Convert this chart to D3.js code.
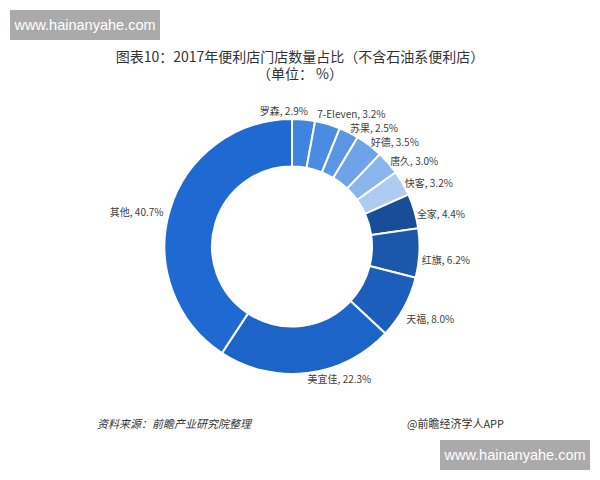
<!DOCTYPE html>
<html><head><meta charset="utf-8">
<script src="https://cdn.jsdelivr.net/npm/d3@7"></script>
<style>body{margin:0;background:#fff}svg{display:block}</style>
</head><body>
<svg id="c" width="600" height="480"></svg>
<script>
const categories = ["罗森","7-Eleven","苏果","好德","唐久","快客","全家","红旗","天福","美宜佳","其他"];
const values = [2.9,3.2,2.5,3.5,3.0,3.2,4.4,6.2,8.0,22.3,40.7];
const colors = ["#3f84df","#4a8ce2","#5a96e5","#6ea3e9","#8ab5ed","#aecbf2","#184d99","#1b57aa","#1c5ebb","#1c64c8","#1f69d2"];
const titleLines = ["图表10：2017年便利店门店数量占比（不含石油系便利店）","（单位： %）"];
const sourceText = "资料来源：前瞻产业研究院整理";
const creditText = "@前瞻经济学人APP";
const watermark = "www.hainanyahe.com";

const svg = d3.select("#c");
const font = "'Noto Sans CJK SC','Noto Sans',sans-serif";
const cx = 292, cy = 246.5, rOuter = 127.5, rInner = 80;

// watermark boxes
[[10,10],[440,440]].forEach(([x,y])=>{
  svg.append("rect").attr("x",x).attr("y",y).attr("width",150).attr("height",30).attr("fill","#aaaaaa");
  svg.append("text").attr("x",x+75).attr("y",y+20).attr("text-anchor","middle")
    .attr("font-family","Arial,'Liberation Sans',sans-serif").attr("font-size",14.5).attr("fill","#fff").text(watermark);
});

// title (one text, two lines)
const title = svg.append("text").attr("text-anchor","middle")
  .attr("font-family",font).attr("font-size",14).attr("fill","#333");
title.selectAll("tspan").data(titleLines).join("tspan")
  .attr("x",300).attr("y",(d,i)=>61.5 + i*17).text(d=>d);

const pie = d3.pie().sort(null).value(d=>d.v);
const data = categories.map((c,i)=>({c, v: values[i], col: colors[i]}));
const arcs = pie(data);
const arc = d3.arc().innerRadius(rInner).outerRadius(rOuter);
const g = svg.append("g").attr("transform",`translate(${cx},${cy})`);
g.selectAll("path").data(arcs).join("path")
  .attr("d",arc).attr("fill",d=>d.data.col).attr("stroke","#fff").attr("stroke-width",2);

// label layout: anchor point just outside the ring, then resolve collisions
const labels = arcs.map(d=>{
  const mid = (d.startAngle+d.endAngle)/2;
  const s = Math.sin(mid), c = Math.cos(mid);
  let x, y, anchor;
  if (mid < 0.15) { anchor="end"; x = 131*s + 4; y = -136*c; }
  else if (Math.abs(mid-Math.PI) < 0.4) { anchor="start"; x = 131*s; y = -132*c + 2; }
  else if (mid > Math.PI) { anchor="end"; x = 131*s - 3; y = 6 - 139*c; }
  else { anchor="start"; x = 130*s; y = 6 - 139*c; }
  return {d, mid, x, y, anchor};
});
// collision pass for right-side start-anchored labels (bottom to top)
const minGap = 13.5;
const right = labels.filter(l=>l.anchor==="start" && l.mid < Math.PI-0.4);
for (let i = right.length-2; i >= 0; i--) {
  const gap = right[i+1].y - right[i].y;
  if (gap < minGap) { const sh = minGap-gap; right[i].y -= sh; right[i].x -= 2.5*sh; }
}
g.selectAll("text").data(labels).join("text")
  .attr("font-family",font).attr("font-size",10).attr("fill","#404040")
  .attr("text-anchor",l=>l.anchor).attr("x",l=>l.x).attr("y",l=>l.y+3.8)
  .text(l=>`${l.d.data.c}, ${l.d.data.v.toFixed(1)}%`);

// footer
svg.append("text").attr("x",97).attr("y",428).attr("font-family",font).attr("font-size",11)
  .attr("font-style","italic").attr("fill","#333").text(sourceText);
svg.append("text").attr("x",407).attr("y",428).attr("font-family",font).attr("font-size",11)
  .attr("fill","#333").text(creditText);
</script>
</body></html>
